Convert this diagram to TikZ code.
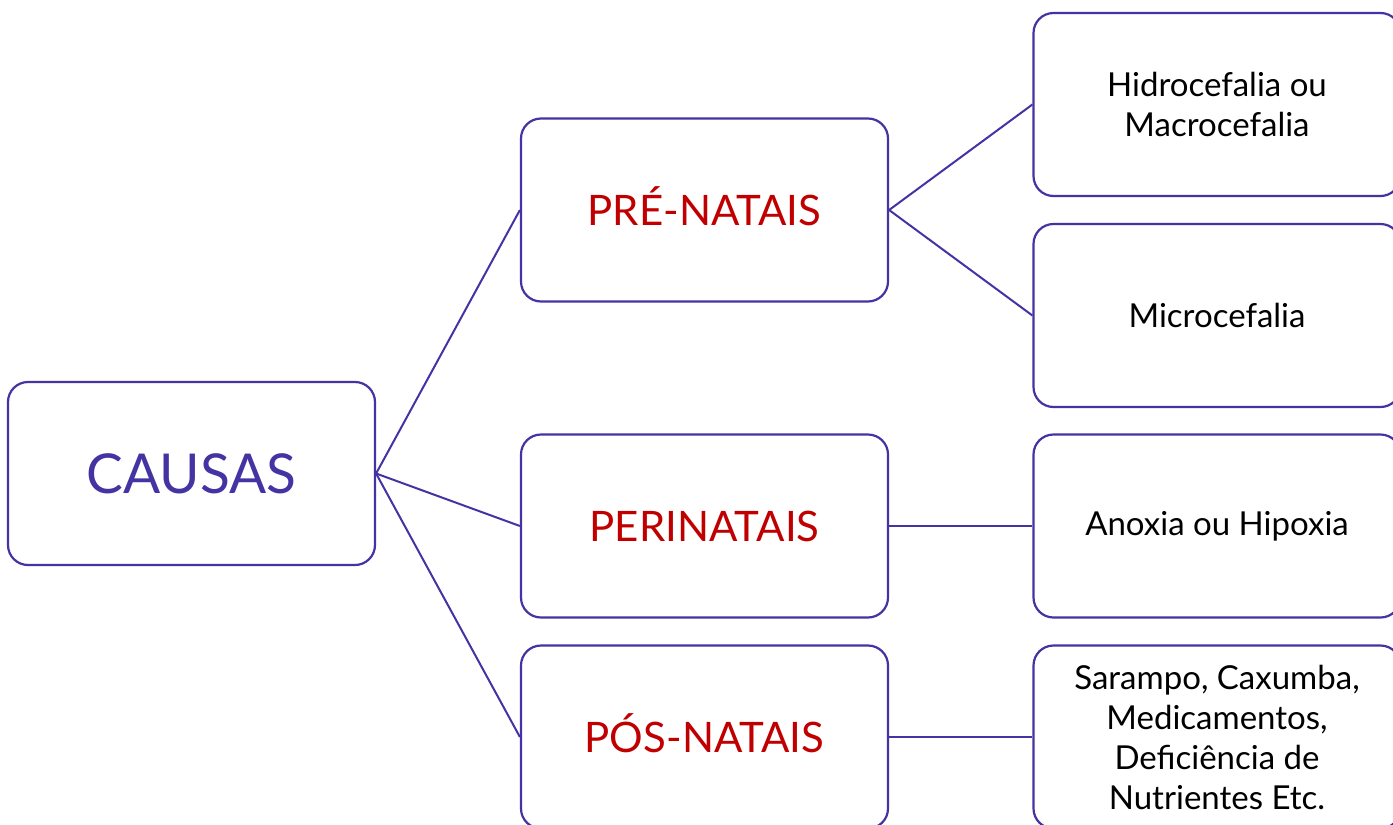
\documentclass[tikz,border=0pt]{standalone}
\usepackage{fontspec}
\setmainfont{Lato}
\definecolor{edge}{HTML}{4333A3}
\definecolor{redtxt}{HTML}{C00000}
\begin{document}
\begin{tikzpicture}[x=1pt,y=-1pt,
  box/.style={draw=edge, line width=2.2pt, rounded corners=20pt, fill=white,
    minimum width=367pt, minimum height=183pt, inner sep=0pt, align=center},
  rootbox/.style={box, text=edge, font=\fontsize{55}{66}\selectfont, text height=40pt, text depth=0pt},
  midbox/.style={box, text=redtxt, font=\fontsize{42}{50}\selectfont, text height=31pt, text depth=0pt},
  leafbox/.style={box, text=black, font=\fontsize{33}{40}\selectfont},
  link/.style={draw=edge, line width=2pt}]
\useasboundingbox (0,0) rectangle (1393,825);
\clip (0,0) rectangle (1393,825);
\node[rootbox] (causas) at (191.5,473.5) {CAUSAS};
\node[midbox] (pre) at (704.5,210) {PRÉ-NATAIS};
\node[midbox] (peri) at (704.5,526) {PERINATAIS};
\node[midbox] (pos) at (704.5,737) {PÓS-NATAIS};
\node[leafbox] (hidro) at (1217,104.5) {Hidrocefalia ou\\Macrocefalia};
\node[leafbox] (micro) at (1217,315.5) {Microcefalia};
\node[leafbox] (anox) at (1217,526) {Anoxia ou Hipoxia};
\node[leafbox] (saram) at (1217,737) {Sarampo, Caxumba,\\Medicamentos,\\Deficiência de\\Nutrientes Etc.};
\draw[link] (causas.east) -- (pre.west);
\draw[link] (causas.east) -- (peri.west);
\draw[link] (causas.east) -- (pos.west);
\draw[link] (pre.east) -- (hidro.west);
\draw[link] (pre.east) -- (micro.west);
\draw[link] (peri.east) -- (anox.west);
\draw[link] (pos.east) -- (saram.west);
\end{tikzpicture}
\end{document}
